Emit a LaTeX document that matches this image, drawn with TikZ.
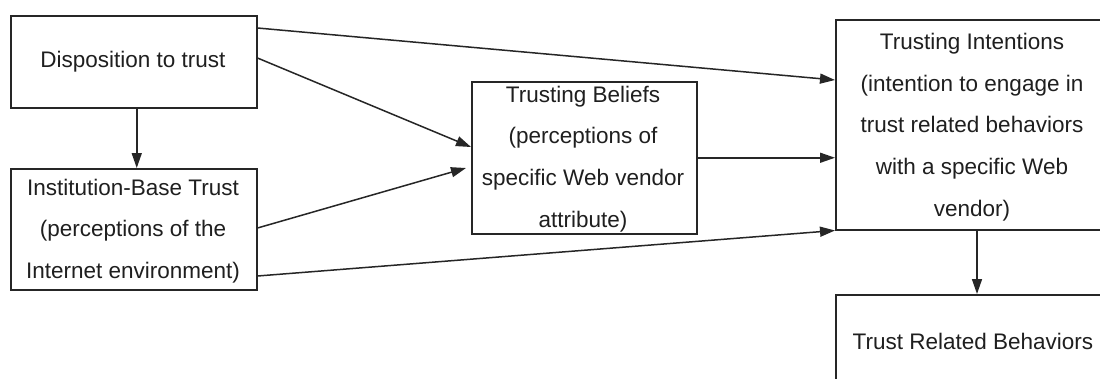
\documentclass[tikz,border=0pt]{standalone}
\usepackage{fontspec}
\setmainfont{Liberation Sans}
\usetikzlibrary{arrows.meta,calc}

\begin{document}
\begin{tikzpicture}[x=1pt,y=-1pt,
  box/.style={draw=black!85, line width=1.5pt, rectangle, anchor=north west, inner sep=0pt},
  lbl/.style={align=center, text=black!88, font=\fontsize{22.5}{41.7}\selectfont, inner sep=0pt},
  link/.style={draw=black!85, line width=1.5pt, -{Triangle[length=15pt,width=10pt]}}]

  \useasboundingbox (0,0) rectangle (1100,378);
  \clip (0,0) rectangle (1100,378);
  \fill[white] (0,0) rectangle (1100,378);

  % boxes
  \node[box, minimum width=246pt, minimum height=92pt]  (disp) at (10,15)  {};
  \node[box, minimum width=246pt, minimum height=121pt] (inst) at (10,168) {};
  \node[box, minimum width=225pt, minimum height=152pt] (bel)  at (471,81) {};
  \node[box, minimum width=275pt, minimum height=210pt] (int)  at (835,19) {};
  \node[box, minimum width=275pt, minimum height=100pt] (beh)  at (835,294) {};

  % texts
  \node[lbl] (dispt) at (133,62)  {Disposition to trust};
  \node[lbl] (instt) at (133,231) {Institution-Base Trust\\(perceptions of the\\Internet environment)};
  \node[lbl] (belt)  at (583,159) {Trusting Beliefs\\(perceptions of\\specific Web vendor\\attribute)};
  \node[lbl] (intt)  at (972,127) {Trusting Intentions\\(intention to engage in\\trust related behaviors\\with a specific Web\\vendor)};
  \node[lbl] (beht)  at (973,341) {Trust Related Behaviors};

  % connectors
  \draw[link] ($(disp.north east)+(0,13)$) -- ($(int.north west)+(0,61)$);
  \draw[link] ($(disp.north east)+(0,43)$) -- ($(bel.north west)+(0,66)$);
  \draw[link] ($(disp.south)+(3,0)$) -- ($(inst.north)+(3,0)$);
  \draw[link] ($(inst.north east)+(0,60)$) -- ($(bel.north west)+(-5,87)$);
  \draw[link] ($(inst.north east)+(0,108)$) -- (int.south west);
  \draw[link] (bel.east) -- (bel.east -| int.west);
  \draw[link] ($(int.south west)+(142,0)$) -- ($(beh.north west)+(142,0)$);
\end{tikzpicture}
\end{document}
